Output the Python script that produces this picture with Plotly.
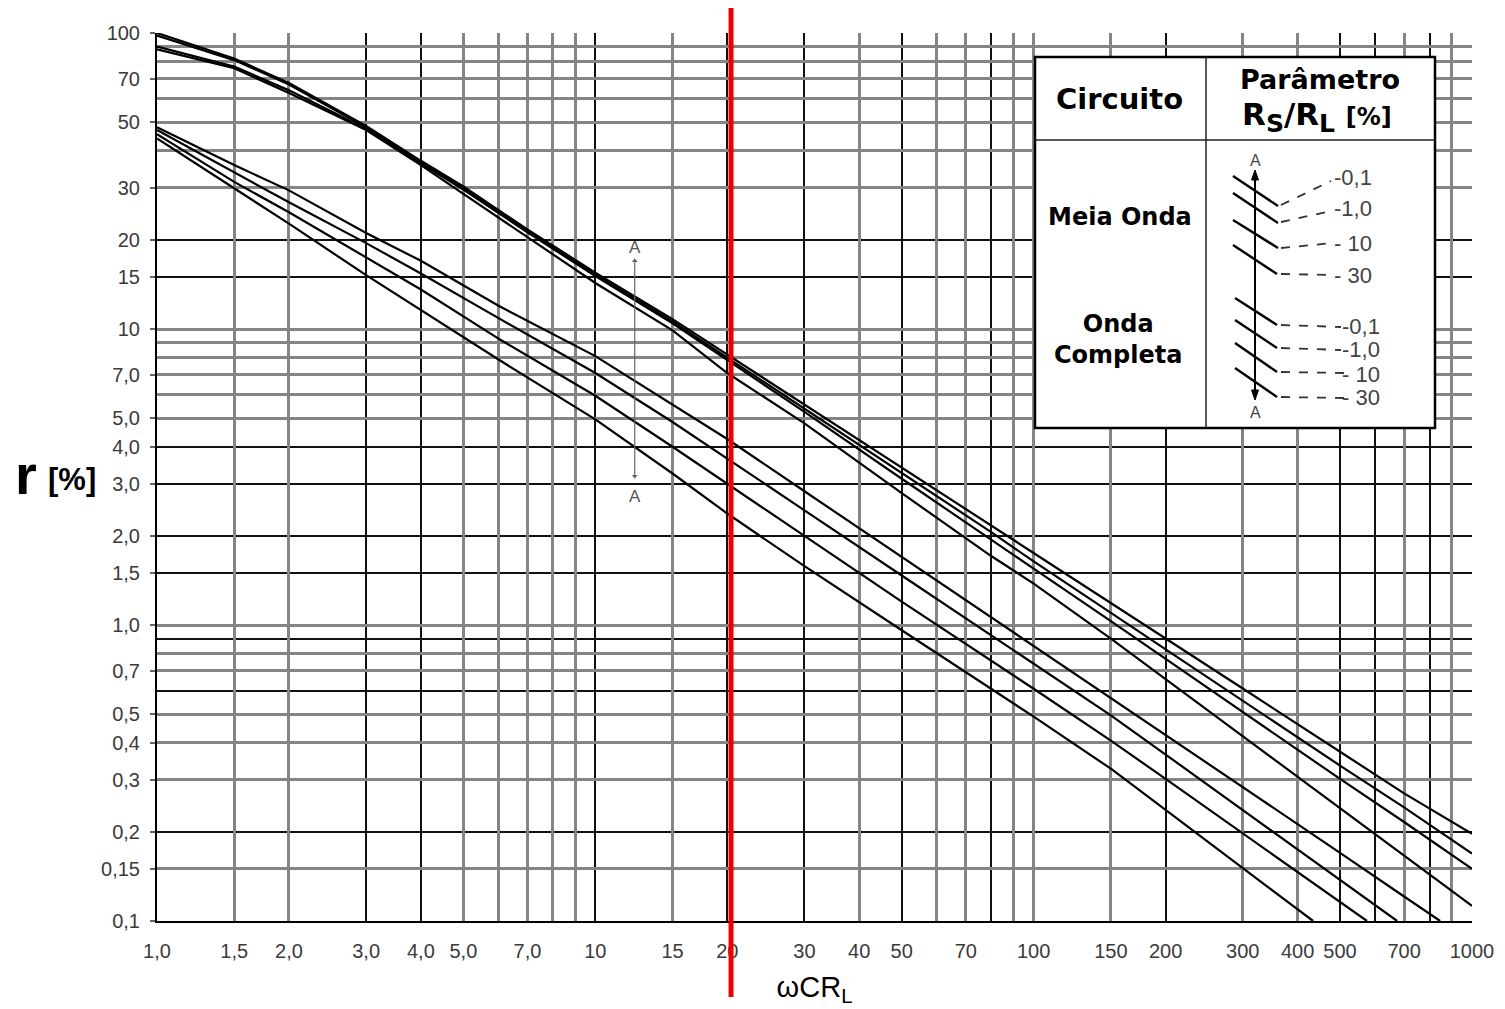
import math
import plotly.graph_objects as go

# ---------------- data ----------------
# Meia onda (half wave) curves, parameter Rs/RL = 0.1, 1.0, 10, 30 %
X_MEIA = [1, 1.5, 2, 3, 4, 5, 7, 10, 15, 20, 30, 50, 80, 100, 150, 200, 300, 500, 700, 1000]
MEIA_01 = [100, 82, 67.8, 48.5, 37.0, 30.3, 21.7, 15.5, 10.8, 8.2, 5.55, 3.40, 2.17, 1.75, 1.19, 0.90, 0.61, 0.373, 0.27, 0.197]
MEIA_1 = [98, 81, 67, 48, 36.6, 30.0, 21.5, 15.3, 10.6, 8.0, 5.4, 3.27, 2.06, 1.64, 1.10, 0.83, 0.553, 0.335, 0.242, 0.169]
MEIA_10 = [90, 77, 64, 47.5, 36.2, 29.6, 21.2, 15.1, 10.45, 7.85, 5.25, 3.12, 1.95, 1.55, 1.03, 0.767, 0.508, 0.302, 0.216, 0.150]
MEIA_30 = [88, 76, 62.7, 47, 35.8, 28.6, 20.4, 14.3, 9.9, 7.1, 4.8, 2.79, 1.71, 1.38, 0.90, 0.656, 0.421, 0.241, 0.166, 0.1125]

# Onda completa (full wave) curves, parameter Rs/RL = 0.1, 1.0, 10, 30 %
X_COMP_01 = [1, 1.5, 2, 3, 4, 6, 10, 15, 20, 30, 50, 100, 150, 200, 300, 500, 700, 846]
COMP_01 = [48, 35.8, 29.4, 21.1, 17.0, 12.0, 8.1, 5.55, 4.25, 2.83, 1.70, 0.85, 0.567, 0.425, 0.283, 0.170, 0.121, 0.1]
X_COMP_1 = [1, 1.5, 2, 3, 4, 6, 10, 15, 20, 30, 50, 100, 150, 200, 300, 500, 675]
COMP_1 = [47, 33.9, 26.8, 19.5, 15.4, 10.9, 7.1, 4.85, 3.64, 2.44, 1.47, 0.741, 0.495, 0.365, 0.237, 0.138, 0.1]
X_COMP_10 = [1, 1.5, 2, 3, 4, 6, 10, 15, 20, 30, 50, 100, 150, 200, 300, 400, 500, 576]
COMP_10 = [45.5, 31.4, 24.8, 17.5, 13.6, 9.3, 5.95, 4.0, 3.0, 2.0, 1.20, 0.609, 0.407, 0.302, 0.198, 0.146, 0.116, 0.1]
X_COMP_30 = [1, 1.5, 2, 3, 4, 6, 10, 15, 20, 30, 50, 100, 150, 200, 300, 434]
COMP_30 = [44, 29.9, 22.7, 15.2, 11.6, 7.9, 4.95, 3.25, 2.38, 1.58, 0.96, 0.49, 0.327, 0.237, 0.151, 0.1]

# tick labels
X_TICKS = [1, 1.5, 2, 3, 4, 5, 7, 10, 15, 20, 30, 40, 50, 70, 100, 150, 200, 300, 400, 500, 700, 1000]
X_TICKTEXT = ["1,0", "1,5", "2,0", "3,0", "4,0", "5,0", "7,0", "10", "15", "20", "30", "40", "50", "70",
              "100", "150", "200", "300", "400", "500", "700", "1000"]
Y_TICKS = [100, 70, 50, 30, 20, 15, 10, 7, 5, 4, 3, 2, 1.5, 1, 0.7, 0.5, 0.4, 0.3, 0.2, 0.15, 0.1]
Y_TICKTEXT = ["100", "70", "50", "30", "20", "15", "10", "7,0", "5,0", "4,0", "3,0", "2,0", "1,5", "1,0",
              "0,7", "0,5", "0,4", "0,3", "0,2", "0,15", "0,1"]

# grid lines (dark thin / grey thick, as in the scanned chart)
X_GRID_DARK = [3, 4, 10, 20, 30, 50, 80, 200, 500, 600, 800]
X_GRID_LIGHT = [1.5, 2, 5, 6, 7, 8, 9, 15, 40, 60, 70, 90, 100, 150, 300, 400, 700, 900, 1000]
Y_GRID_DARK = [100, 20, 15, 4, 3, 2, 1.5, 0.9, 0.6, 0.2]
Y_GRID_LIGHT = [90, 80, 70, 60, 50, 40, 30, 10, 9, 8, 7, 6, 5, 1, 0.8, 0.7, 0.5, 0.4, 0.3, 0.15]

# marked reference line and "A - A" marker inside the plot
RED_LINE_X = 20.4
A_MARK_X = 12.3
A_MARK_TOP = 17.0
A_MARK_BOTTOM = 3.18
A_LABEL_TOP = 18.9
A_LABEL_BOTTOM = 2.72

# legend table labels
LEG_PARAMS = ["-0,1", "-1,0", "- 10", "- 30"]

# ---------------- figure ----------------
W_FIG, H_FIG = 1505, 1009
ML, MR, MT, MB = 157, 33, 33, 88
PW = W_FIG - ML - MR
PH = H_FIG - MT - MB


def px(x):
    return (x - ML) / PW


def py(y):
    return (MT + PH - y) / PH


fig = go.Figure()

line_style = dict(color="black", width=2.2)
for xs, ys in [(X_MEIA, MEIA_01), (X_MEIA, MEIA_1), (X_MEIA, MEIA_10), (X_MEIA, MEIA_30),
               (X_COMP_01, COMP_01), (X_COMP_1, COMP_1), (X_COMP_10, COMP_10), (X_COMP_30, COMP_30)]:
    fig.add_trace(go.Scatter(x=xs, y=ys, mode="lines", line=line_style,
                             showlegend=False, hoverinfo="skip"))

# A-A marker line inside the plot
fig.add_trace(go.Scatter(x=[A_MARK_X, A_MARK_X], y=[A_MARK_TOP, A_MARK_BOTTOM], mode="lines+markers",
                         line=dict(color="#666", width=1.2),
                         marker=dict(symbol=["triangle-up", "triangle-down"], size=5, color="#666"),
                         showlegend=False, hoverinfo="skip"))

# dummy trace to activate the grey-grid overlay axes
fig.add_trace(go.Scatter(x=[None], y=[None], xaxis="x2", yaxis="y2", showlegend=False))

tick_font = dict(family="Liberation Sans, Arial, sans-serif", size=20, color="#3a3a3a")
dark_grid = dict(showgrid=True, gridcolor="#111111", gridwidth=1.6, ticks="")

fig.update_layout(
    width=W_FIG, height=H_FIG, autosize=False,
    margin=dict(l=ML, r=MR, t=MT, b=MB),
    paper_bgcolor="white", plot_bgcolor="white",
    xaxis=dict(type="log", range=[0, 3], tickmode="array", tickvals=X_TICKS, ticktext=X_TICKTEXT,
               showgrid=False, zeroline=False, showline=True, linecolor="black", linewidth=2,
               ticks="", tickfont=tick_font, ticklabelstandoff=11,
               minor=dict(tickmode="array", tickvals=X_GRID_DARK, **dark_grid),
               title=dict(text="ωCR<sub>L</sub>", standoff=16,
                          font=dict(family="Liberation Sans, Arial, sans-serif", size=29, color="black"))),
    yaxis=dict(type="log", range=[-1, 2], tickmode="array", tickvals=Y_TICKS, ticktext=Y_TICKTEXT,
               showgrid=False, zeroline=False, showline=True, linecolor="black", linewidth=2,
               ticks="outside", ticklen=5, tickcolor="#666", tickwidth=1.5,
               minor=dict(tickmode="array", tickvals=Y_GRID_DARK, **dark_grid),
               tickfont=tick_font, ticklabelstandoff=6),
    xaxis2=dict(type="log", range=[0, 3], overlaying="x", anchor="y2", tickmode="array",
                tickvals=X_GRID_LIGHT, showticklabels=False, ticks="", showgrid=True,
                gridcolor="#858585", gridwidth=2.6, zeroline=False, showline=False),
    yaxis2=dict(type="log", range=[-1, 2], overlaying="y", anchor="x2", tickmode="array",
                tickvals=Y_GRID_LIGHT, showticklabels=False, ticks="", showgrid=True,
                gridcolor="#858585", gridwidth=2.6, zeroline=False, showline=False),
)

shapes = []
# red reference line
shapes.append(dict(type="line", xref="x", yref="paper", x0=RED_LINE_X, x1=RED_LINE_X,
                   y0=py(997), y1=py(8), line=dict(color="#ee0000", width=5), layer="above"))
# legend table
shapes.append(dict(type="rect", xref="paper", yref="paper", x0=px(1035), x1=px(1435),
                   y0=py(428), y1=py(57), fillcolor="white", line=dict(color="black", width=2.5),
                   layer="above"))
shapes.append(dict(type="line", xref="paper", yref="paper", x0=px(1206), x1=px(1206),
                   y0=py(428), y1=py(57), line=dict(color="#222", width=1.5)))
shapes.append(dict(type="line", xref="paper", yref="paper", x0=px(1035), x1=px(1435),
                   y0=py(140), y1=py(140), line=dict(color="#222", width=1.5)))

diag = [((1233, 176), (1278, 206)), ((1233, 193), (1278, 223)), ((1233, 220), (1278, 248)),
        ((1233, 245), (1277, 274)), ((1235, 298), (1277, 325)), ((1235, 320), (1277, 348)),
        ((1235, 343), (1277, 372)), ((1235, 368), (1277, 397))]
for (a, b) in diag:
    shapes.append(dict(type="line", xref="paper", yref="paper", x0=px(a[0]), y0=py(a[1]),
                       x1=px(b[0]), y1=py(b[1]), line=dict(color="black", width=2.4)))
leaders = [((1281, 205), (1331, 181)), ((1281, 222), (1331, 211)), ((1281, 248), (1333, 243)),
           ((1281, 274), (1333, 275)), ((1281, 325), (1341, 327)), ((1281, 348), (1341, 350)),
           ((1281, 372), (1345, 373)), ((1281, 397), (1345, 398))]
for (a, b) in leaders:
    shapes.append(dict(type="line", xref="paper", yref="paper", x0=px(a[0]), y0=py(a[1]),
                       x1=px(b[0]), y1=py(b[1]), line=dict(color="#333", width=1.8, dash="dash")))
# legend vertical A-A line with arrow heads
shapes.append(dict(type="line", xref="paper", yref="paper", x0=px(1255), x1=px(1255),
                   y0=py(176), y1=py(394), line=dict(color="black", width=2)))
shapes.append(dict(type="path", xref="paper", yref="paper",
                   path=f"M {px(1255)},{py(170)} L {px(1251.5)},{py(180)} L {px(1258.5)},{py(180)} Z",
                   fillcolor="black", line=dict(color="black", width=1)))
shapes.append(dict(type="path", xref="paper", yref="paper",
                   path=f"M {px(1255)},{py(400)} L {px(1251.5)},{py(390)} L {px(1258.5)},{py(390)} Z",
                   fillcolor="black", line=dict(color="black", width=1)))
fig.update_layout(shapes=shapes)

ann = []


def text_at(x, y, text, font, xanchor="center", yanchor="middle"):
    ann.append(dict(xref="paper", yref="paper", x=px(x), y=py(y), showarrow=False, text=text,
                    font=font, xanchor=xanchor, yanchor=yanchor))


# y axis title "r [%]"
text_at(26, 474, "<b>r</b>", dict(family="Liberation Sans, Arial, sans-serif", size=56, color="black"))
text_at(72, 479, "<b>[%]</b>", dict(family="Liberation Sans, Arial, sans-serif", size=31, color="black"))
# legend texts
hdr = dict(family="DejaVu Sans, sans-serif", color="black")
text_at(1119, 99, "<b>Circuito</b>", dict(size=29, **hdr))
text_at(1320, 80, "<b>Parâmetro</b>", dict(size=27, **hdr))
text_at(1317, 117, "<b>R<sub><span style='font-size:25px'>S</span></sub>/R<sub><span style='font-size:25px'>L</span></sub> <span style='font-size:24px'>[%]</span></b>",
        dict(size=31, **hdr))
text_at(1120, 217, "<b>Meia Onda</b>", dict(size=24, **hdr))
text_at(1118, 340, "<b>Onda<br>Completa</b>", dict(size=24, **hdr))
lab_font = dict(family="Liberation Sans, Arial, sans-serif", size=22, color="#444")
for i, t in enumerate(LEG_PARAMS):
    text_at(1332, [177, 209, 243, 275][i], t, lab_font, xanchor="left")
    text_at(1340, [327, 350, 374, 398][i], t, lab_font, xanchor="left")
text_at(1255, 161, "A", dict(family="Liberation Sans, Arial", size=16, color="#444"))
text_at(1255, 412, "A", dict(family="Liberation Sans, Arial", size=16, color="#444"))

# in-plot A labels
lx = math.log10(A_MARK_X)
ann.append(dict(xref="x", yref="y", x=lx, y=math.log10(A_LABEL_TOP), showarrow=False, text="A",
                font=dict(family="Liberation Sans, Arial", size=17, color="#555")))
ann.append(dict(xref="x", yref="y", x=lx, y=math.log10(A_LABEL_BOTTOM), showarrow=False, text="A",
                font=dict(family="Liberation Sans, Arial", size=17, color="#555")))
fig.update_layout(annotations=ann)

fig.write_html("out.html")
